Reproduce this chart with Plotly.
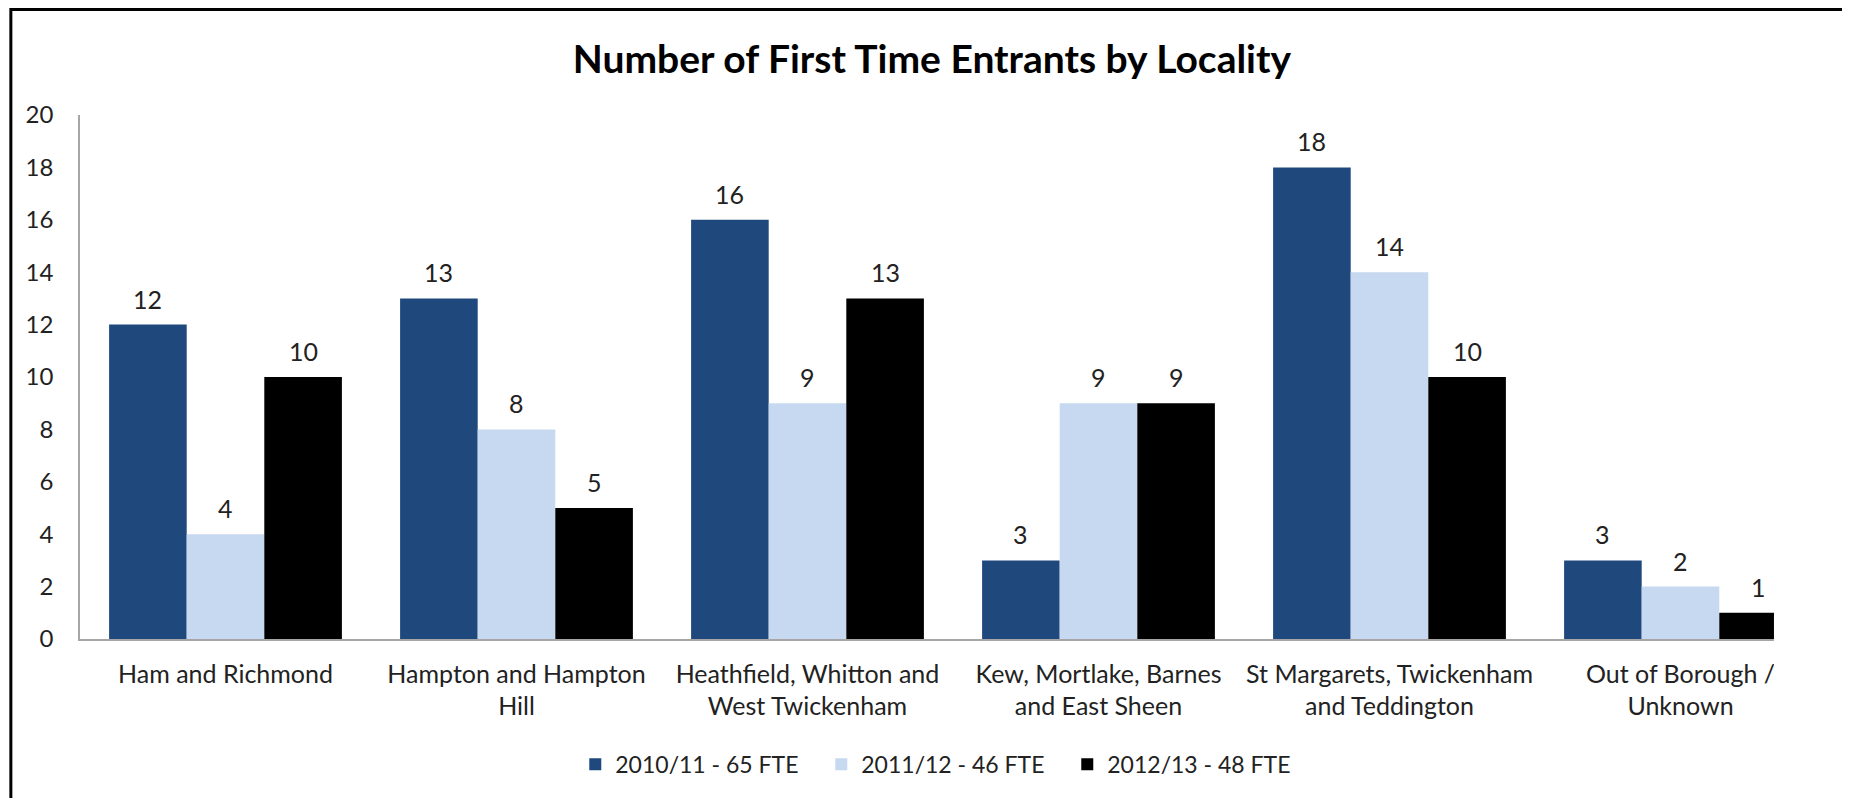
import plotly.graph_objects as go

# data
localities = [
    "Ham and Richmond",
    "Hampton and Hampton<br>Hill",
    "Heathfield, Whitton and<br>West Twickenham",
    "Kew, Mortlake, Barnes<br>and East Sheen",
    "St Margarets, Twickenham<br>and Teddington",
    "Out of Borough /<br>Unknown",
]
series_names = ["2010/11 - 65 FTE", "2011/12 - 46 FTE", "2012/13 - 48 FTE"]
fte_2010 = [12, 13, 16, 3, 18, 3]
fte_2011 = [4, 8, 9, 9, 14, 2]
fte_2012 = [10, 5, 13, 9, 10, 1]
colors = ["#1F497D", "#C6D9F1", "#000000"]

FONT = "Lato"
bargap = 0.2

fig = go.Figure()
all_vals = [fte_2010, fte_2011, fte_2012]
for name, vals, col in zip(series_names, all_vals, colors):
    fig.add_trace(go.Bar(
        x=localities, y=vals, name=name,
        marker=dict(color=col, line=dict(width=0)),
    ))

# value labels above bars (placed on the category axis index)
w = (1 - bargap) / 3
for k, vals in enumerate(all_vals):
    for i, v in enumerate(vals):
        fig.add_annotation(
            x=i + (k - 1) * w, y=v, xref="x", yref="y",
            text=str(v), showarrow=False, yanchor="middle", yshift=26,
            font=dict(family=FONT, size=25, color="#222222"),
        )

# the source chart is cut off on the right: blank out that strip
fig.add_shape(type="rect", xref="paper", yref="paper",
              x0=0.9702, x1=1.2, y0=-0.15, y1=1.15,
              fillcolor="white", line=dict(width=0), layer="above")
# outer chart border (cut off at right and bottom like the source)
fig.add_shape(type="rect", xref="paper", yref="paper",
              x0=-0.0396, x1=1.2, y0=-0.6, y1=1.2013,
              line=dict(color="black", width=3), layer="above")

fig.update_layout(
    width=1842, height=790,
    margin=dict(l=72, r=24, t=107, b=159),
    paper_bgcolor="white", plot_bgcolor="white",
    barmode="group", bargap=bargap, bargroupgap=0,
    font=dict(family=FONT, size=25, color="#222222"),
    title=dict(text="<b>Number of First Time Entrants by Locality</b>",
               x=0.5016, xanchor="center", xref="container", y=0.935, yanchor="middle",
               font=dict(family=FONT, size=39, color="black")),
    showlegend=True,
    legend=dict(orientation="h", x=0.495, xanchor="center", y=-0.239, yanchor="middle",
                font=dict(family=FONT, size=23, color="#222222"),
                itemwidth=30, entrywidth=201, traceorder="normal"),
    xaxis=dict(showline=True, linecolor="#A6A6A6", linewidth=1.5, showgrid=False,
               ticks="", tickfont=dict(size=25), ticklabelstandoff=12),
    yaxis=dict(range=[0, 20], dtick=2, showline=True, linecolor="#A6A6A6", linewidth=1.5,
               showgrid=False, zeroline=False, ticks="", tickfont=dict(size=24),
               ticklabelstandoff=20),
)

fig.write_html("out.html")
